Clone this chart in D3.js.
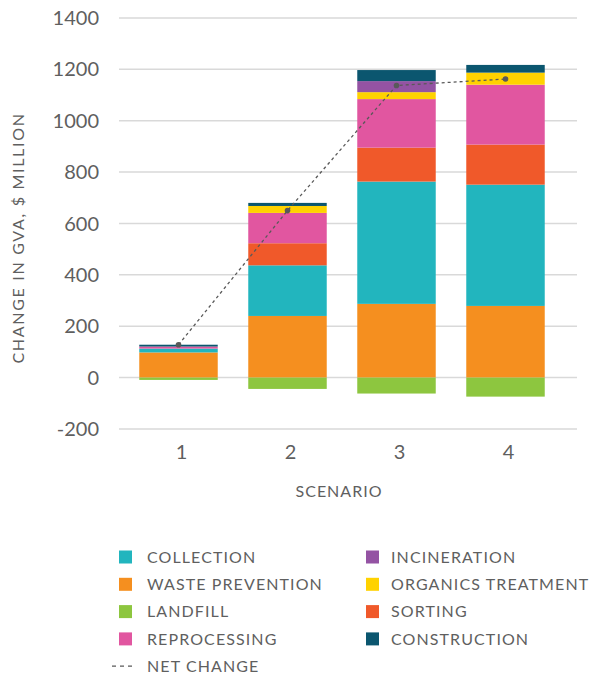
<!DOCTYPE html>
<html>
<head>
<meta charset="utf-8">
<script src="https://cdn.jsdelivr.net/npm/d3@7"></script>
<style>
  body { margin: 0; background: #fff; }
  text { font-family: Lato, "Noto Sans", sans-serif; fill: #5f5f5f; }
</style>
</head>
<body>
<svg id="chart" width="591" height="674"></svg>
<script>
// data
const scenarios = ["1", "2", "3", "4"];
const wastePrevention = [98, 240, 287, 279];
const collection = [15, 197, 476, 472];
const sorting = [0, 86, 132, 156];
const reprocessing = [8, 118, 189, 233];
const organicsTreatment = [0, 27, 27, 47];
const incineration = [0, 0, 43, 0];
const construction = [7, 12, 43, 30];
const landfill = [-9, -44, -62, -74];
const netChange = [128, 650, 1137, 1162];
const yTicks = [-200, 0, 200, 400, 600, 800, 1000, 1200, 1400];

// series in stacking order (bottom -> top)
const series = [
  {key: "WASTE PREVENTION", values: wastePrevention, color: "#F58F1F"},
  {key: "COLLECTION", values: collection, color: "#22B5BE"},
  {key: "SORTING", values: sorting, color: "#F0592A"},
  {key: "REPROCESSING", values: reprocessing, color: "#E156A0"},
  {key: "ORGANICS TREATMENT", values: organicsTreatment, color: "#FFD200"},
  {key: "INCINERATION", values: incineration, color: "#9453A3"},
  {key: "CONSTRUCTION", values: construction, color: "#0B566F"},
  {key: "LANDFILL", values: landfill, color: "#8DC63F"}
];
const legendCol1 = ["COLLECTION", "WASTE PREVENTION", "LANDFILL", "REPROCESSING"];
const legendCol2 = ["INCINERATION", "ORGANICS TREATMENT", "SORTING", "CONSTRUCTION"];

const colorOf = d3.scaleOrdinal()
  .domain(series.map(s => s.key))
  .range(series.map(s => s.color));

const rows = scenarios.map((s, i) => {
  const r = {scenario: s};
  series.forEach(ser => { r[ser.key] = ser.values[i]; });
  return r;
});

const svg = d3.select("#chart");

const gridLeft = 119, gridRight = 577;
const x = d3.scaleBand().domain(scenarios).range([124, 560]).paddingInner(0.28).paddingOuter(0.14);
const y = d3.scaleLinear().domain([-200, 1400]).range([429, 17.9]);

// gridlines
svg.append("g")
  .selectAll("line")
  .data(yTicks)
  .join("line")
  .attr("x1", gridLeft)
  .attr("x2", gridRight)
  .attr("y1", d => y(d))
  .attr("y2", d => y(d))
  .attr("stroke", "#d9d9d9")
  .attr("stroke-width", 1.5);

// y tick labels
svg.append("g")
  .selectAll("text")
  .data(yTicks)
  .join("text")
  .attr("x", 99)
  .attr("y", d => y(d))
  .attr("dy", "0.36em")
  .attr("text-anchor", "end")
  .style("font-size", "20px")
  .text(d => d);

// stacked bars
const stack = d3.stack()
  .keys(series.map(s => s.key))
  .offset(d3.stackOffsetDiverging);
const stacked = stack(rows);

svg.append("g")
  .selectAll("g")
  .data(stacked)
  .join("g")
  .attr("fill", d => colorOf(d.key))
  .selectAll("rect")
  .data(d => d)
  .join("rect")
  .attr("x", d => x(d.data.scenario))
  .attr("width", x.bandwidth())
  .attr("y", d => y(Math.max(d[0], d[1])))
  .attr("height", d => Math.abs(y(d[0]) - y(d[1])));

// net change line
const netLine = d3.line()
  .x((d, i) => x(scenarios[i]) + x.bandwidth() / 2)
  .y(d => y(d));

svg.append("path")
  .attr("d", netLine(netChange))
  .attr("fill", "none")
  .attr("stroke", "#595959")
  .attr("stroke-width", 1.3)
  .attr("stroke-dasharray", "3,3");

svg.append("g")
  .selectAll("circle")
  .data(netChange)
  .join("circle")
  .attr("cx", (d, i) => x(scenarios[i]) + x.bandwidth() / 2)
  .attr("cy", d => y(d))
  .attr("r", 2.8)
  .attr("fill", "#595959");

// x tick labels
svg.append("g")
  .selectAll("text")
  .data(scenarios)
  .join("text")
  .attr("x", d => x(d) + x.bandwidth() / 2 + 3)
  .attr("y", 459)
  .attr("text-anchor", "middle")
  .style("font-size", "20px")
  .text(d => d);

// axis titles
svg.append("text")
  .attr("x", 339)
  .attr("y", 497)
  .attr("text-anchor", "middle")
  .style("font-size", "16px")
  .style("letter-spacing", "1px")
  .text("SCENARIO");

svg.append("text")
  .attr("transform", "translate(24,238) rotate(-90)")
  .attr("text-anchor", "middle")
  .style("font-size", "16px")
  .style("letter-spacing", "1.7px")
  .text("CHANGE IN GVA, $ MILLION");

// legend
const legend = svg.append("g");
const rowY = i => 557 + i * 27.3;

function legendColumn(keys, sx, tx) {
  const g = legend.append("g");
  g.selectAll("rect")
    .data(keys)
    .join("rect")
    .attr("x", sx)
    .attr("y", (d, i) => rowY(i) - 6.5)
    .attr("width", 13)
    .attr("height", 13)
    .attr("fill", d => colorOf(d));
  g.selectAll("text")
    .data(keys)
    .join("text")
    .attr("x", tx)
    .attr("y", (d, i) => rowY(i))
    .attr("dy", "0.36em")
    .style("font-size", "16px")
    .style("letter-spacing", "1.1px")
    .text(d => d);
}
legendColumn(legendCol1, 119, 147);
legendColumn(legendCol2, 366, 391);

legend.append("line")
  .attr("x1", 112)
  .attr("x2", 133)
  .attr("y1", rowY(4))
  .attr("y2", rowY(4))
  .attr("stroke", "#595959")
  .attr("stroke-width", 1.3)
  .attr("stroke-dasharray", "4,4");
legend.append("text")
  .attr("x", 147)
  .attr("y", rowY(4))
  .attr("dy", "0.36em")
  .style("font-size", "16px")
  .style("letter-spacing", "1.1px")
  .text("NET CHANGE");
</script>
</body>
</html>
